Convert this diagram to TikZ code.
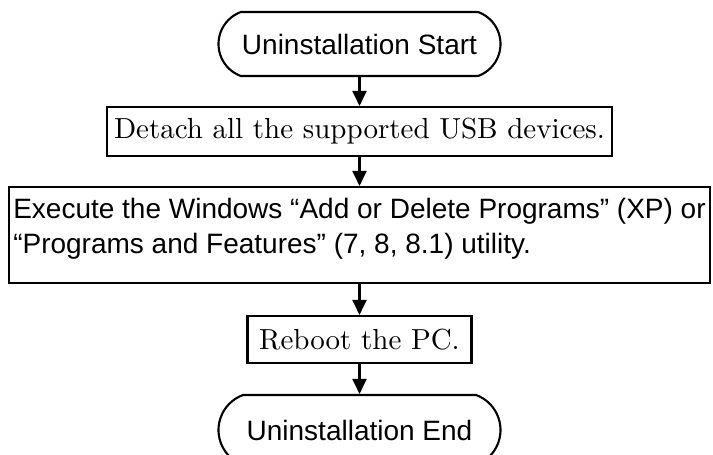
\documentclass[tikz,border=0pt]{standalone}
\usepackage{fontspec}
\newfontfamily\sansfont{Liberation Sans}
\newfontfamily\seriffont{lmroman10-regular}[Extension=.otf]
\usepackage{tikz}
\usetikzlibrary{arrows.meta, shapes.misc}

\tikzset{
  terminal/.style={draw, line width=2.1pt, rounded rectangle, rounded rectangle arc length=140,
    minimum width=282pt, minimum height=64pt, inner sep=0pt,
    font=\sansfont\fontsize{28}{34}\selectfont},
  stepbox/.style={draw, line width=2.1pt, rectangle, inner xsep=4pt, inner ysep=0pt,
    font=\seriffont\fontsize{29}{34}\selectfont},
  flow/.style={line width=2.1pt, -{Triangle[length=15pt, width=14pt]}}
}

\begin{document}
\begin{tikzpicture}[x=1pt, y=-1pt]
  \useasboundingbox (0,0) rectangle (713,455);
  \clip (0,0) rectangle (713,455);

     % -------------------------
     % Steps of the uninstallation
     % -------------------------
      \node[terminal] (start) at (359.5,44) {Uninstallation Start};
      \node[stepbox, minimum width=505pt, minimum height=49pt] (detach) at (359.5,131.5)
        {Detach all the supported USB devices.};

      % Windows utility (two lines, sans)
      \node[stepbox, minimum width=701pt, minimum height=96pt,
            font=\sansfont\fontsize{28}{35}\selectfont] (execute) at (359.5,235)
        {\raisebox{6pt}[\height][\depth]{\begin{tabular}{@{}l@{}}
          Execute the Windows “Add or Delete Programs” (XP) or\\
          “Programs and Features” (7, 8, 8.1) utility.
        \end{tabular}}};

      \node[stepbox, minimum width=224pt, minimum height=47pt] (reboot) at (359.5,339.5)
        {Reboot the PC.};
      \node[terminal, minimum height=70pt] (finish) at (359.5,430) {Uninstallation End};

      % Arrows
      \draw[flow] (start.south) -- (detach.north);
      \draw[flow] (detach.south) -- (execute.north);
      \draw[flow] (execute.south) -- (reboot.north);
      \draw[flow] (reboot.south) -- (finish.north);
\end{tikzpicture}
\end{document}
